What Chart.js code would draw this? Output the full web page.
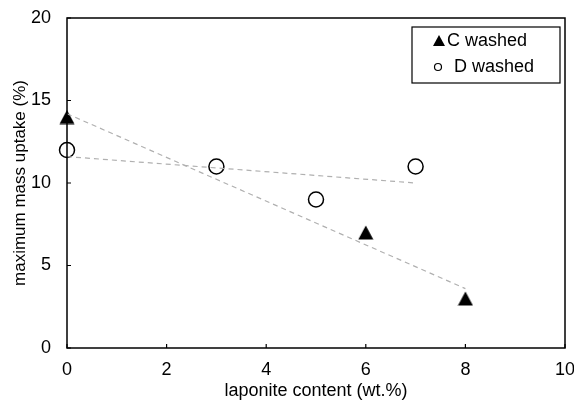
<!DOCTYPE html>
<html><head><meta charset="utf-8">
<script src="https://cdn.jsdelivr.net/npm/chart.js@4.4.1/dist/chart.umd.min.js"></script>
<style>html,body{margin:0;padding:0;background:#fff;}canvas{display:block;}</style>
</head><body>
<canvas id="c" width="574" height="402"></canvas>
<script>
const cX = [0, 6, 8];
const cY = [14, 7, 3];
const dX = [0, 3, 5, 7];
const dY = [12, 11, 9, 11];
const cTrendX = [0, 8];
const cTrendY = [14.2, 3.6];
const dTrendX = [0, 7];
const dTrendY = [11.6, 10.0];
const xTicks = [0, 2, 4, 6, 8, 10];
const yTicks = [0, 5, 10, 15, 20];
const seriesNames = ['C washed', 'D washed'];
const xTitle = 'laponite content (wt.%)';
const yTitle = 'maximum mass uptake (%)';

const pts = (xs, ys) => xs.map((x, i) => ({x, y: ys[i]}));
const FONT = 'Liberation Sans, Arial, sans-serif';

// triangle marker centred on its point
const tri = document.createElement('canvas');
tri.width = 16; tri.height = 15;
(() => {
  const g = tri.getContext('2d');
  g.fillStyle = '#000';
  g.beginPath(); g.moveTo(8, 0.5); g.lineTo(15.5, 14.5); g.lineTo(0.5, 14.5); g.closePath(); g.fill();
})();

const innerTicks = {
  id: 'innerTicks',
  afterDatasetsDraw(chart) {
    const {ctx, chartArea: a, scales: {x, y}} = chart;
    ctx.save();
    ctx.strokeStyle = '#000';
    ctx.lineWidth = 1.5;
    ctx.strokeRect(a.left, a.top, a.right - a.left, a.bottom - a.top);
    ctx.lineWidth = 1.2;
    ctx.beginPath();
    xTicks.forEach(v => { const px = x.getPixelForValue(v); ctx.moveTo(px, a.bottom); ctx.lineTo(px, a.bottom - 4); });
    yTicks.forEach(v => { const py = y.getPixelForValue(v); ctx.moveTo(a.left, py); ctx.lineTo(a.left + 4, py); });
    ctx.stroke();
    // legend
    const L = 412, T = 27, R = 560, B = 83;
    ctx.fillStyle = '#fff';
    ctx.fillRect(L, T, R - L, B - T);
    ctx.lineWidth = 1.2;
    ctx.strokeRect(L, T, R - L, B - T);
    ctx.fillStyle = '#000';
    ctx.beginPath();
    ctx.moveTo(439, 35); ctx.lineTo(445, 46); ctx.lineTo(433, 46); ctx.closePath(); ctx.fill();
    ctx.beginPath();
    ctx.arc(438, 67, 3.5, 0, Math.PI * 2);
    ctx.lineWidth = 1.2; ctx.stroke();
    ctx.font = '18px ' + FONT;
    ctx.textBaseline = 'middle';
    ctx.fillText(seriesNames[0], 447, 41);
    ctx.fillText(seriesNames[1], 454, 67);
    ctx.restore();
  }
};

new Chart(document.getElementById('c'), {
  type: 'scatter',
  data: {
    datasets: [
      {label: 'C trend', data: pts(cTrendX, cTrendY), showLine: true, borderColor: '#b0b0b0', borderWidth: 1.2, borderDash: [5, 4], pointRadius: 0, fill: false},
      {label: 'D trend', data: pts(dTrendX, dTrendY), showLine: true, borderColor: '#b0b0b0', borderWidth: 1.2, borderDash: [5, 4], pointRadius: 0, fill: false},
      {label: seriesNames[0], data: pts(cX, cY), pointStyle: tri, pointRadius: 8, backgroundColor: '#000', borderColor: '#000', borderWidth: 1},
      {label: seriesNames[1], data: pts(dX, dY), pointStyle: 'circle', pointRadius: 7.5, backgroundColor: '#fff', borderColor: '#000', borderWidth: 1.5}
    ]
  },
  options: {
    responsive: false,
    animation: false,
    clip: false,
    layout: {padding: {left: 0, right: 8, top: 18, bottom: 0}},
    plugins: {legend: {display: false}, tooltip: {enabled: false}},
    scales: {
      x: {
        type: 'linear', min: 0, max: 10,
        afterBuildTicks: s => { s.ticks = xTicks.map(v => ({value: v})); },
        afterFit: s => { s.height = 54; s.paddingLeft = 0; s.paddingRight = 0; },
        grid: {display: false},
        border: {display: false},
        ticks: {color: '#000', font: {family: FONT, size: 18}, padding: 3, maxRotation: 0},
        title: {display: true, text: xTitle, color: '#000', font: {family: FONT, size: 18}, padding: {top: 1, bottom: 0}}
      },
      y: {
        type: 'linear', min: 0, max: 20,
        afterBuildTicks: s => { s.ticks = yTicks.map(v => ({value: v})); },
        afterFit: s => { s.width = 67; s.paddingTop = 0; s.paddingBottom = 0; },
        grid: {display: false},
        border: {display: false},
        ticks: {color: '#000', font: {family: FONT, size: 18}, padding: 8},
        title: {display: true, text: yTitle, color: '#000', font: {family: FONT, size: 17}, padding: {top: 10, bottom: 0}}
      }
    }
  },
  plugins: [innerTicks]
});
</script>
</body></html>
